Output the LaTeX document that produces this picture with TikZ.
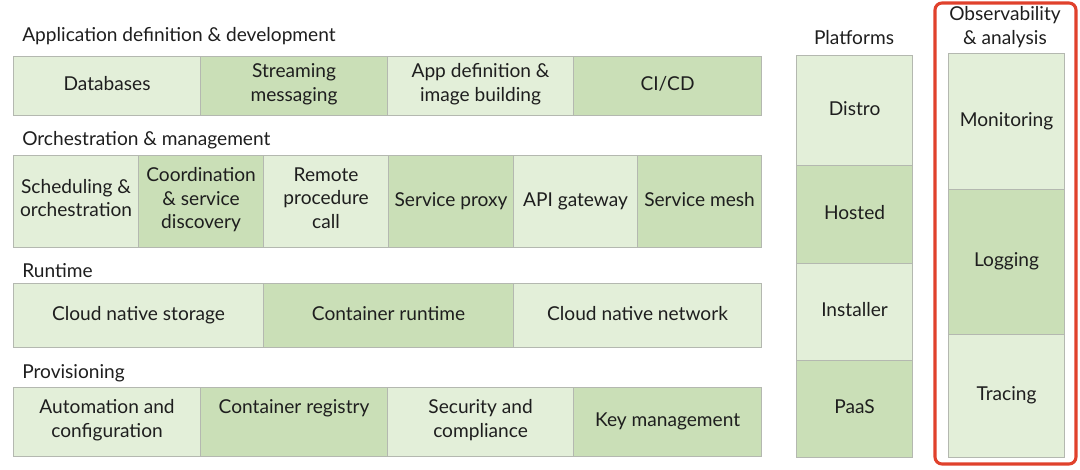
\documentclass[tikz,border=0pt]{standalone}
\usepackage{fontspec}
\setmainfont{Lato}
\usetikzlibrary{positioning}
\definecolor{lightgreen}{HTML}{E3EFD9}
\definecolor{darkgreen}{HTML}{CADFB7}
\definecolor{cellline}{HTML}{B4B8B0}
\definecolor{textc}{HTML}{1E1E1E}
\definecolor{framered}{HTML}{E0412C}
\tikzset{
  cell/.style={draw=cellline, line width=0.8pt, align=center, anchor=north west,
    inner sep=1pt, text=textc, font=\fontsize{13.6}{16.6}\selectfont,
    execute at begin node=\strut, execute at end node=\strut},
  lite/.style={cell, fill=lightgreen},
  deep/.style={cell, fill=darkgreen},
  size/.style 2 args={minimum width=#1*0.025cm, minimum height=#2*0.025cm},
  heading/.style={text=textc, inner sep=0pt, font=\fontsize{13.6}{16.6}\selectfont}
}

\begin{document}
\begin{tikzpicture}[x=0.025cm, y=-0.025cm]
    \useasboundingbox (0,0) rectangle (1080,469);

    % Application definition & development
    \node[heading, anchor=west] (apptitle) at (22,36) {Application definition \& development};
    \node[lite, size={187}{59}] (databases) at (13,56) {Databases};
    \node[deep, size={187}{59}] (streaming) at (200,56) {Streaming\\messaging};
    \node[lite, size={186}{59}] (appdef) at (387,56) {App definition \&\\image building};
    \node[deep, size={188}{59}] (cicd) at (573,56) {CI/CD};

    % Orchestration & management
    \node[heading, anchor=west] (orchtitle) at (22,140) {Orchestration \& management};
    \node[lite, size={125}{92}] (scheduling) at (13,155) {Scheduling \&\\orchestration};
    \node[deep, size={125}{92}] (coordination) at (138,155) {Coordination\\\& service\\discovery};
    \node[lite, size={125}{92}] (rpc) at (263,155) {Remote\\procedure\\call};
    \node[deep, size={125}{92}] (proxy) at (388,155) {Service proxy};
    \node[lite, size={124}{92}] (gateway) at (513,155) {API gateway};
    \node[deep, size={124}{92}] (mesh) at (637,155) {Service mesh};

    % Runtime
    \node[heading, anchor=west] (runtitle) at (22,271) {Runtime};
    \node[lite, size={250}{64}] (storage) at (13,283) {Cloud native storage};
    \node[deep, size={250}{64}] (runtime) at (263,283) {Container runtime};
    \node[lite, size={248}{64}] (network) at (513,283) {Cloud native network};

    % Provisioning
    \node[heading, anchor=west] (provtitle) at (22,373) {Provisioning};
    \node[lite, size={187}{69}] (automation) at (13,387) {Automation and\\configuration};
    \node[deep, size={187}{69}] (registry) at (200,387) {Container registry\\};
    \node[lite, size={186}{69}] (security) at (387,387) {Security and\\compliance};
    \node[deep, size={188}{69}] (keys) at (573,387) {Key management};

    % Platforms
    \node[heading] (plattitle) at (854,38) {Platforms};
    \node[lite, size={116}{110}] (distro) at (796,55) {Distro};
    \node[deep, size={116}{98}] (hosted) at (796,165) {Hosted};
    \node[lite, size={116}{97}] (installer) at (796,263) {Installer};
    \node[deep, size={116}{97}] (paas) at (796,360) {PaaS};

    % Observability & analysis
    \draw[framered, line width=2.2pt, rounded corners=5pt] (935,3) rectangle (1076,464);
    \node[heading, align=center] (obstitle) at (1005,27) {Observability\\\& analysis};
    \node[lite, size={116}{136}] (monitoring) at (948,53) {Monitoring};
    \node[deep, size={116}{145}] (logging) at (948,189) {Logging};
    \node[lite, size={116}{123}] (tracing) at (948,334) {Tracing};
\end{tikzpicture}
\end{document}
